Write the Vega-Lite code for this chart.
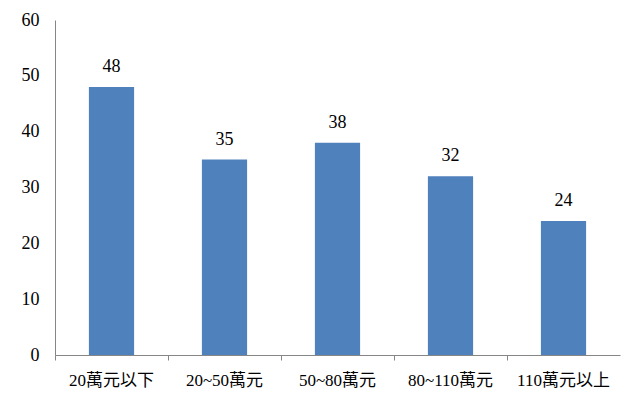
{
  "$schema": "https://vega.github.io/schema/vega-lite/v6.json",
  "autosize": "none",
  "width": 565,
  "height": 335,
  "padding": {"left": 55, "top": 20, "right": 20, "bottom": 59},
  "background": "white",
  "data": {"values": [
    {"category": "20萬元以下", "value": 48},
    {"category": "20~50萬元", "value": 35},
    {"category": "50~80萬元", "value": 38},
    {"category": "80~110萬元", "value": 32},
    {"category": "110萬元以上", "value": 24}
  ]},
  "encoding": {
    "x": {"field": "category", "type": "nominal", "sort": null,
      "scale": {"paddingInner": 0, "paddingOuter": 0},
      "axis": {"title": null, "labelAngle": 0, "labelFont": "'Liberation Serif', 'DejaVu Serif', 'Noto Sans CJK TC', serif", "labelFontSize": 17, "labelColor": "#000000", "labelPadding": 12, "domainColor": "#868686", "tickColor": "#868686", "tickSize": 5, "bandPosition": 0}},
    "y": {"field": "value", "type": "quantitative",
      "scale": {"domain": [0, 60]},
      "axis": {"title": null, "values": [0,10,20,30,40,50,60], "grid": false, "ticks": false, "labelFont": "'Liberation Serif', 'DejaVu Serif', serif", "labelFontSize": 18, "labelColor": "#000000", "labelPadding": 16, "domainColor": "#868686"}}
  },
  "layer": [
    {"mark": {"type": "bar", "width": {"band": 0.4}, "color": "#4F81BD"}},
    {"mark": {"type": "text", "dy": -20, "font": "'Liberation Serif', 'DejaVu Serif', serif", "fontSize": 18, "color": "#000000"},
     "encoding": {"text": {"field": "value", "type": "quantitative"}}}
  ],
  "config": {"view": {"stroke": null}}
}
